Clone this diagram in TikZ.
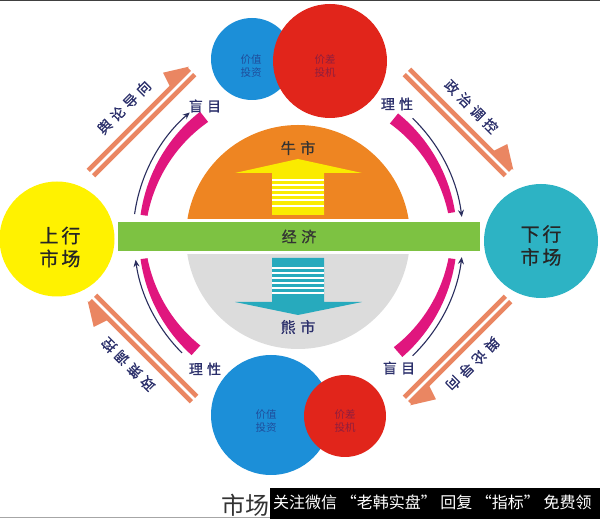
\documentclass[tikz,border=0pt]{standalone}
\usepackage{fontspec}
\newfontfamily\cjk{Noto Sans CJK SC}
\newfontfamily\cjksp[LetterSpace=30,FakeBold=0.8]{Noto Sans CJK SC}
\newfontfamily\cjkmid[LetterSpace=15,FakeBold=0.8]{Noto Sans CJK SC}
\usetikzlibrary{arrows.meta}
\definecolor{bullorange}{HTML}{EE8522}
\definecolor{beargray}{HTML}{DCDCDC}
\definecolor{ecogreen}{HTML}{7DC242}
\definecolor{arryellow}{HTML}{FAEB00}
\definecolor{arrteal}{HTML}{27AABD}
\definecolor{upyellow}{HTML}{FFF200}
\definecolor{downteal}{HTML}{2DB3C4}
\definecolor{valblue}{HTML}{1C8FD8}
\definecolor{specred}{HTML}{E1251B}
\definecolor{pinkband}{HTML}{E0167E}
\definecolor{navyline}{HTML}{2A2E5E}
\definecolor{salmon}{HTML}{EA8662}
\definecolor{navytext}{HTML}{2B2F6B}
\definecolor{bluetext}{HTML}{1F4E9C}
\definecolor{redtext}{HTML}{8E1E3E}
\begin{document}
\begin{tikzpicture}[x=1pt,y=1pt,
  lbl/.style={text=navytext, font=\cjksp\fontsize{14}{14}\selectfont, inner sep=0},
  diag/.style={text=navytext, font=\cjksp\fontsize{14}{14}\selectfont, inner sep=0, transform shape},
  bigtxt/.style={text=black!85, font=\cjkmid\fontsize{19}{23}\selectfont, align=center, inner sep=0},
  smalltxt/.style={font=\cjk\fontsize{10.5}{13}\selectfont, align=center, inner sep=0},
  midtxt/.style={font=\cjksp\fontsize{15}{15}\selectfont, inner sep=0},
  disc/.style={circle, inner sep=0, draw=none},
  band/.style={salmon, line width=4.6},
  curvearrow/.style={navyline, line width=1.1, -{Stealth[length=7,width=6]}}
]
\useasboundingbox (0,0) rectangle (600,519);
\fill[white] (0,0) rectangle (600,519);
\draw[black!75, line width=1.2] (0,518.6) -- (600,518.6);

\coordinate (O) at (298,282);

% bull / bear halves
\begin{scope}
  \clip (0,300) rectangle (600,519);
  \fill[bullorange] (O) circle (112);
\end{scope}
\begin{scope}
  \clip (0,0) rectangle (600,264);
  \fill[beargray] (O) circle (112);
\end{scope}

% economy bar
\node[fill=ecogreen, minimum width=362, minimum height=29, inner sep=0, midtxt, text=black!80] (eco) at (299,282.5) {经济};

% bull arrow
\fill[arryellow] (272,304) -- (272,346) -- (235,346) -- (298,360) -- (362,346) -- (324,346) -- (324,304) -- cycle;
\foreach \yy in {339,334,329,324,319,313}
  \draw[white, line width=1.4] (272,\yy) -- (324,\yy);
\node[midtxt, text=black!80] (bull) at (298,371) {牛市};

% bear arrow
\fill[arrteal] (272,261) -- (272,217) -- (235,217) -- (298,204) -- (362,217) -- (324,217) -- (324,261) -- cycle;
\foreach \yy in {251,246,241,236,231,226}
  \draw[white, line width=1.4] (272,\yy) -- (324,\yy);
\node[midtxt, text=navytext] (bear) at (298,192) {熊市};

% market circles
\node[disc, fill=upyellow, minimum size=115] (up) at (57,280) {};
\node[bigtxt] (uptxt) at (60,272) {上行\\市场};
\node[disc, fill=downteal, minimum size=114] (down) at (541,278) {};
\node[bigtxt] (downtxt) at (541,273.5) {下行\\市场};

% top circles
\node[disc, fill=valblue, minimum size=82] (tv) at (252,460) {};
\node[smalltxt, text=bluetext] (tvt) at (251,453) {价值\\投资};
\node[disc, fill=specred, minimum size=114] (ts) at (330,458) {};
\node[smalltxt, text=redtext] (tst) at (325,453) {价差\\投机};

% bottom circles
\node[disc, fill=valblue, minimum size=120] (bv) at (271,104) {};
\node[smalltxt, text=bluetext] (bvt) at (266,98) {价值\\投资};
\node[disc, fill=specred, minimum size=82] (bs) at (345,103) {};
\node[smalltxt, text=redtext] (bst) at (345,98) {价差\\投机};

% pink tapered bands: thin end at bar, thick end at label
\fill[pinkband] plot[domain=0:1, samples=40] ({298+159*cos(172-44*\x)},{282+159*sin(172-44*\x)})
  -- plot[domain=1:0, samples=40] ({298+(152-6*\x)*cos(172-44*\x)},{282+(152-6*\x)*sin(172-44*\x)}) -- cycle;
\fill[pinkband] plot[domain=0:1, samples=40] ({298+159*cos(9+42*\x)},{282+159*sin(9+42*\x)})
  -- plot[domain=1:0, samples=40] ({298+(152-6*\x)*cos(9+42*\x)},{282+(152-6*\x)*sin(9+42*\x)}) -- cycle;
\fill[pinkband] plot[domain=0:1, samples=40] ({298+159*cos(188+40*\x)},{282+159*sin(188+40*\x)})
  -- plot[domain=1:0, samples=40] ({298+(152-6*\x)*cos(188+40*\x)},{282+(152-6*\x)*sin(188+40*\x)}) -- cycle;
\fill[pinkband] plot[domain=0:1, samples=40] ({298+159*cos(-8-41*\x)},{282+159*sin(-8-41*\x)})
  -- plot[domain=1:0, samples=40] ({298+(152-6*\x)*cos(-8-41*\x)},{282+(152-6*\x)*sin(-8-41*\x)}) -- cycle;

% navy curved arrows
\draw[curvearrow] ([shift={(172:165)}]O) arc[start angle=172, end angle=131, radius=165];
\draw[curvearrow] ([shift={(46:165)}]O) arc[start angle=46, end angle=7, radius=165];
\draw[curvearrow] ([shift={(225:164)}]O) arc[start angle=225, end angle=188, radius=164];
\draw[curvearrow] ([shift={(-46:165)}]O) arc[start angle=-46, end angle=-7, radius=165];
% arc end labels
\node[lbl] (blindtl) at (205,413) {盲目};
\node[lbl] (rattr) at (397,415) {理性};
\node[lbl] (ratbl) at (205,150) {理性};
\node[lbl] (blindbr) at (399,151) {盲目};

% salmon double arrows (local frame: +x along arrow, +y outward)
\begin{scope}[shift={(192,447)}, rotate=45]
  \draw[band] (-143,3.8) -- (0,3.8) (-143,-3.8) -- (0,-3.8);
  \fill[salmon] (1.5,6) -- (-21,20) -- (-27,2) -- cycle;
  \node[diag] (opinion1) at (-73,23) {舆论导向};
\end{scope}
\begin{scope}[shift={(508,346)}, rotate=-45]
  \draw[band] (-143,3.8) -- (0,3.8) (-143,-3.8) -- (0,-3.8);
  \fill[salmon] (1.5,6) -- (-21,20) -- (-27,2) -- cycle;
  \node[diag] (politic) at (-73,21) {政治调控};
\end{scope}
\begin{scope}[shift={(93,221)}, rotate=135]
  \draw[band] (-143,3.8) -- (0,3.8) (-143,-3.8) -- (0,-3.8);
  \fill[salmon] (1.5,6) -- (-21,20) -- (-27,2) -- cycle;
  \node[diag] (policy) at (-72,22) {政策调控};
\end{scope}
\begin{scope}[shift={(407,119)}, rotate=-135]
  \draw[band] (-143,3.8) -- (0,3.8) (-143,-3.8) -- (0,-3.8);
  \fill[salmon] (1.5,6) -- (-21,20) -- (-27,2) -- cycle;
  \node[diag] (opinion2) at (-72,21) {舆论导向};
\end{scope}

% bottom strip
\draw[black!35, line width=1] (0,1.5) -- (270,1.5);
\node[font=\cjk\fontsize{24}{24}\selectfont, text=black!80, inner sep=0] (mk) at (245,14) {市场};
\fill[black] (270,0) rectangle (600,31);
\node[anchor=west, text=white, font=\cjk\fontsize{16}{16}\selectfont, inner sep=0] (ad) at (273,17) {关注微信 “老韩实盘” 回复 “指标” 免费领};
\end{tikzpicture}
\end{document}
